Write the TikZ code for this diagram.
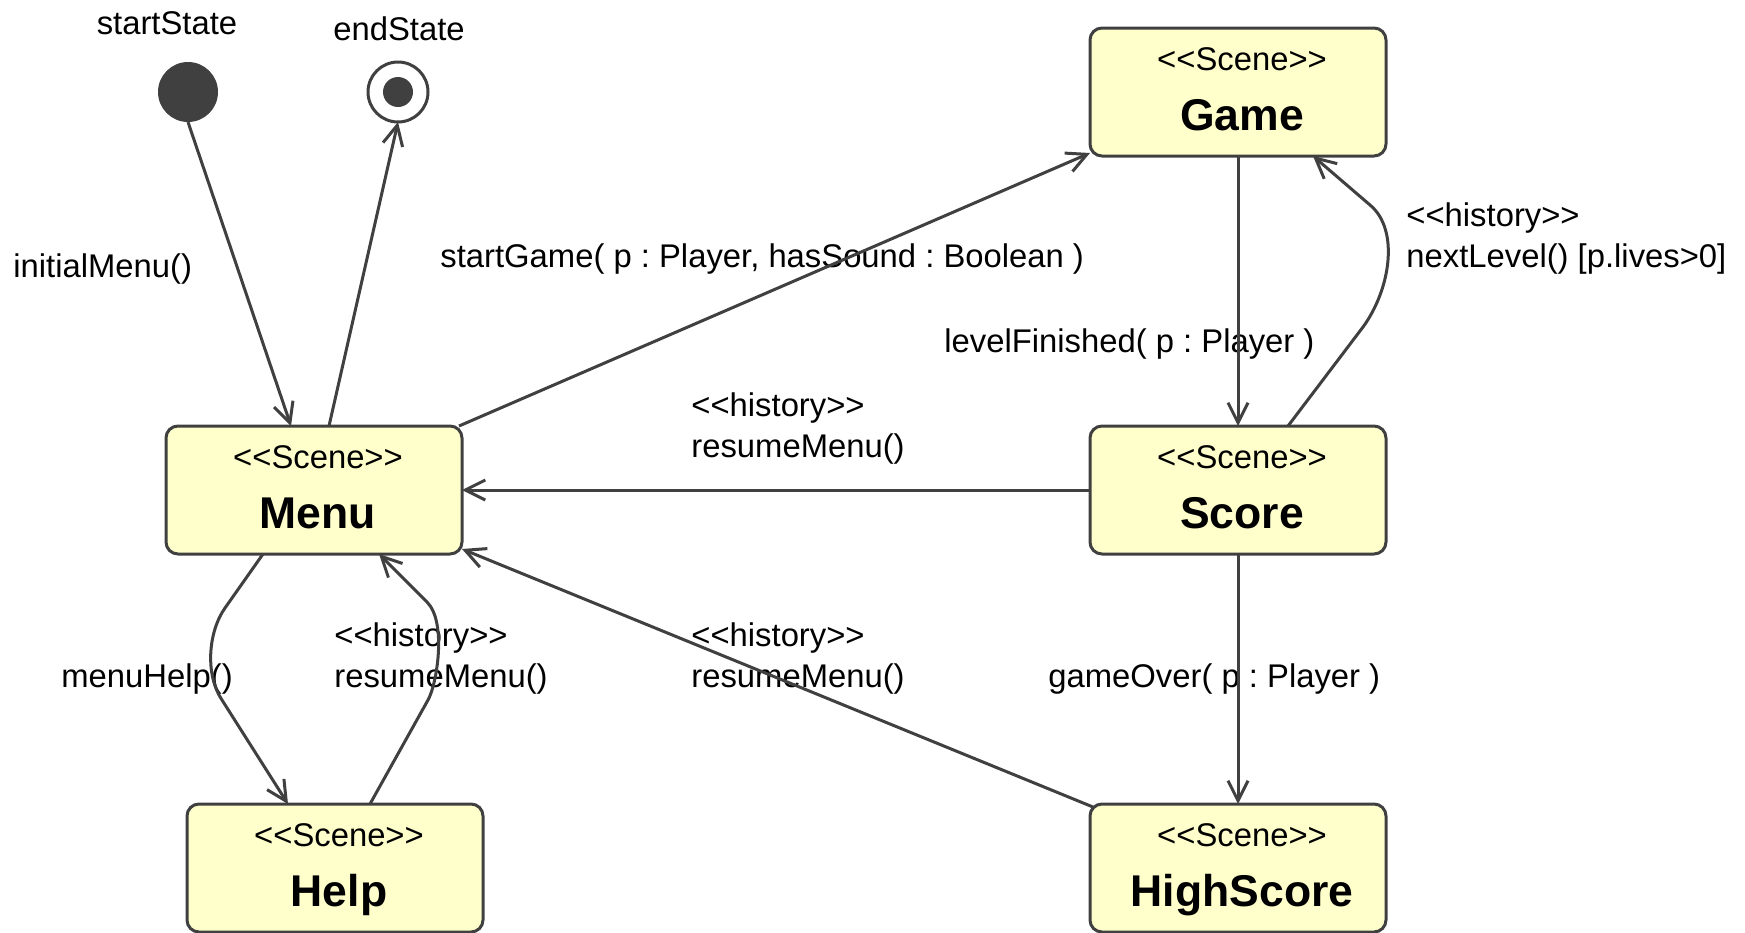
\documentclass[tikz,border=0pt]{standalone}
\usepackage{fontspec}
\setmainfont{Liberation Sans}
\usetikzlibrary{arrows.meta,calc}
\definecolor{linec}{HTML}{404040}
\definecolor{scenefill}{HTML}{FFFFCC}
\newcommand\lla{\textless\kern0pt\textless}
\newcommand\rra{\textgreater\kern0pt\textgreater}
\newcommand\mkscene[4]{%
  \node[scene] (#1) at (#2,#3) {};
  \node[stereo] (#1-st) at ($(#1.center)+(4,-22)$) {\lla Scene\rra};
  \node[sname] (#1-nm) at ($(#1.center)+(4,38)$) {#4};
}
\begin{document}
\begin{tikzpicture}[x=0.5pt,y=-0.5pt,
  conn/.style={draw=linec,line width=1.5pt,-{Straight Barb[length=10pt,width=10pt]}},
  scene/.style={draw=linec,fill=scenefill,line width=1.5pt,rounded corners=6pt,minimum width=148pt,minimum height=64pt,inner sep=0pt,outer sep=0pt},
  stereo/.style={font=\fontsize{16.4}{20.5}\selectfont\frenchspacing,inner sep=0pt,anchor=base},
  sname/.style={font=\fontsize{22.25}{26}\selectfont\bfseries,inner sep=0pt,anchor=base},
  lbl/.style={font=\fontsize{16.4}{20.5}\selectfont\frenchspacing,inner sep=0pt,anchor=west,align=left},
]
\useasboundingbox (0,0) rectangle (1745,932);

% states
\mkscene{menu}{314}{490}{Menu}
\mkscene{game}{1238}{92}{Game}
\mkscene{score}{1238}{490}{Score}
\mkscene{help}{335}{868}{Help}
\mkscene{highscore}{1238}{868}{HighScore}

\node[circle,fill=linec,minimum size=30pt,inner sep=0pt,outer sep=0pt] (start) at (188,92) {};
\node[circle,draw=linec,fill=white,line width=1.5pt,minimum size=30pt,inner sep=0pt,outer sep=0pt] (end) at (398,92) {};
\node[circle,fill=linec,minimum size=15pt,inner sep=0pt] (endin) at (end.center) {};

\node[lbl,anchor=center] (startlbl) at (167,23) {startState};
\node[lbl,anchor=center] (endlbl) at (399,29) {endState};

% labels
\node[lbl] (l-init) at (13,269) {initialMenu()};
\node[lbl] (l-start) at (440,259) {startGame( p : Player, hasSound : Boolean )};
\node[lbl] (l-level) at (944,344) {levelFinished( p : Player )};
\node[lbl] (l-next) at (1406,238.5) {\lla history\rra\\nextLevel() [p.lives\textgreater 0]};
\node[lbl] (l-res1) at (691,428.5) {\lla history\rra\\resumeMenu()};
\node[lbl] (l-help) at (61,679) {menuHelp()};
\node[lbl] (l-res2) at (334,659) {\lla history\rra\\resumeMenu()};
\node[lbl] (l-res3) at (691,659) {\lla history\rra\\resumeMenu()};
\node[lbl] (l-over) at (1048,679) {gameOver( p : Player )};

% transitions
\draw[conn] (start.south) -- ($(menu.north)+(-23,0)$);
\draw[conn] ($(menu.north)+(15,0)$) -- (end.south);
\draw[conn] ($(menu.north east)+(-3,0)$) -- ($(game.south west)+(0,-3)$);
\draw[conn] (game.south) -- (score.north);
\draw[conn] ($(score.north)+(50,0)$) -- (1363,327) .. controls (1390,290) and (1400,230) .. (1370,205) -- ($(game.south)+(75,0)$);
\draw[conn] (score.west) -- (menu.east);
\draw[conn] ($(menu.south)+(-51,0)$) -- (225,608) .. controls (208,632) and (205,675) .. (222,700) -- ($(help.north)+(-47,0)$);
\draw[conn] ($(help.north)+(35,0)$) -- (428,700) .. controls (437,684) and (447,622) .. (427,602) -- ($(menu.south)+(65,0)$);
\draw[conn] ($(highscore.north west)+(3,3)$) -- ($(menu.south east)+(0,-5)$);
\draw[conn] (score.south) -- (highscore.north);
\end{tikzpicture}
\end{document}
